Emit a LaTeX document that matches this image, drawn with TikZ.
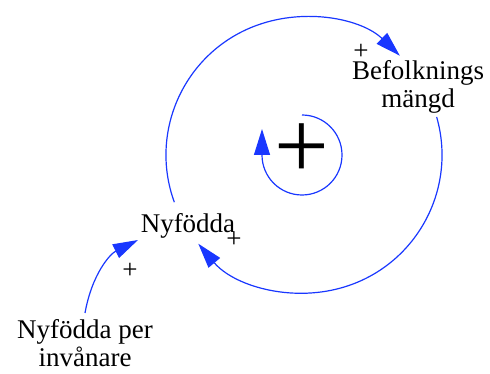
\documentclass[tikz,border=0pt]{standalone}
\usepackage{fontspec}
\setmainfont{Liberation Serif}
\usetikzlibrary{arrows.meta,calc}
\definecolor{loopblue}{RGB}{25,55,255}
\begin{document}
\begin{tikzpicture}[x=1pt,y=1pt,
  lbl/.style={font=\fontsize{27}{28}\selectfont, inner sep=0pt, align=center, anchor=base},
  pol/.style={font=\fontsize{27}{27}\selectfont, inner sep=0pt, anchor=base},
  link/.style={draw=loopblue, line width=1.2pt, -{Triangle[length=25pt,width=15pt]}, fill=none}]
\useasboundingbox (0,0) rectangle (490,374);
% text nodes (y = 374 - image y); base anchor = last line's baseline
\node[lbl] (bef) at (418,266) {Befolknings\\mängd};
\node[lbl] (nyf) at (188,141) {Nyfödda};
\node[lbl] (npi) at (85,7) {Nyfödda per\\invånare};
% loop centres
\coordinate (c) at (304,219);
\coordinate (ci) at (302,219);
% arcs
\coordinate (a1) at ($(c)+(200:138)$);
\coordinate (a2) at ($(c)+(16:138)$);
\draw[link] (a1) arc[start angle=200, end angle=46, radius=138];
\draw[link] (a2) arc[start angle=16, end angle=-140, radius=138];
\coordinate (i1) at ($(ci)+(90:40)$);
\draw[link, -{Triangle[length=26pt,width=16pt]}] (i1) arc[start angle=90, end angle=-180, radius=40] -- ++(0,26);
% Nyfödda per invånare -> Nyfödda
\coordinate (s1) at (85,61);
\coordinate (t1) at (138,134);
\draw[link] (s1) .. controls (92,100) and (110,120) .. (t1);
% polarities
\node[pol] (p1) at (361,314) {+};
\node[pol] (p2) at (234,126) {+};
\node[pol] (p3) at (130,95) {+};
\node[font=\fontsize{97}{97}\selectfont, inner sep=0pt, anchor=base] (loop) at (302,195.5) {+};
\end{tikzpicture}
\end{document}
